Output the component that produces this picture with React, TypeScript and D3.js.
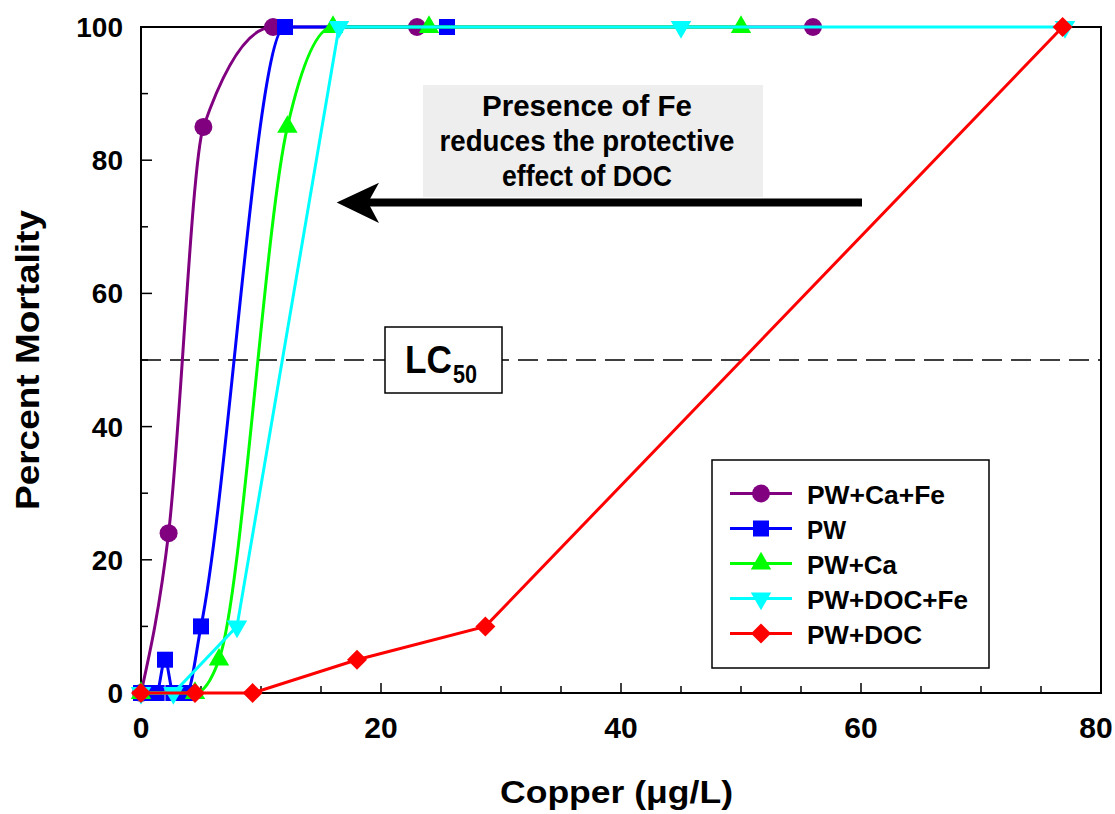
import React from 'react'
import * as d3 from 'd3'

// Copper (ug/L) vs percent mortality
const caFeX = [0, 2.3, 5.2, 11, 23, 56]
const caFeY = [0, 24, 85, 100, 100, 100]
const pwX = [0, 1.3, 2, 2.7, 3.8, 5, 12, 25.5]
const pwY = [0, 0, 5, 0, 0, 10, 100, 100]
const caX = [0, 4.5, 6.5, 12.2, 16, 24, 50]
const caY = [0, 0, 5, 85, 100, 100, 100]
const docFeX = [0, 2.7, 8, 16.5, 45, 77]
const docFeY = [0, 0, 10, 100, 100, 100]
const docX = [0, 4.5, 9.3, 18, 28.7, 76.8]
const docY = [0, 0, 0, 5, 10, 100]

const seriesNames = ['PW+Ca+Fe', 'PW', 'PW+Ca', 'PW+DOC+Fe', 'PW+DOC']
const xTicks = [0, 20, 40, 60, 80]
const yTicks = [0, 20, 40, 60, 80, 100]
const noteLines = ['Presence of Fe', 'reduces the protective', 'effect of DOC']

const FONT = '"Liberation Sans", Arial, sans-serif'

const zip = (xs: number[], ys: number[]) => xs.map((x, i) => [x, ys[i]] as [number, number])

const series = [
  { name: seriesNames[0], pts: zip(caFeX, caFeY), color: '#800080', shape: 'circle', smooth: true },
  { name: seriesNames[1], pts: zip(pwX, pwY), color: '#0000ff', shape: 'square', smooth: true },
  { name: seriesNames[2], pts: zip(caX, caY), color: '#00ff00', shape: 'up', smooth: true },
  { name: seriesNames[3], pts: zip(docFeX, docFeY), color: '#00ffff', shape: 'down', smooth: false },
  { name: seriesNames[4], pts: zip(docX, docY), color: '#ff0000', shape: 'diamond', smooth: false },
]

// measured text widths in the reference
const legendWidths = [138, 39, 90, 161, 115]
const noteWidths = [210, 295, 170]

function Marker({ shape, x, y, color }: { shape: string; x: number; y: number; color: string }) {
  let d = ''
  let rot = 0
  if (shape === 'circle') d = d3.symbol(d3.symbolCircle, 254)() as string
  else if (shape === 'square') d = d3.symbol(d3.symbolSquare, 256)() as string
  else if (shape === 'up') d = d3.symbol(d3.symbolTriangle, 180)() as string
  else if (shape === 'down') { d = d3.symbol(d3.symbolTriangle, 180)() as string; rot = 180 }
  else { d = d3.symbol(d3.symbolSquare, 200)() as string; rot = 45 }
  return <path d={d} transform={`translate(${x},${y}) rotate(${rot})`} fill={color} />
}

export default function App() {
  const width = 1115
  const height = 814
  const left = 141
  const right = 1101
  const top = 27
  const bottom = 693

  const x = d3.scaleLinear().domain([0, 80]).range([left, right])
  const y = d3.scaleLinear().domain([0, 100]).range([bottom, top])

  const smoothLine = d3.line<[number, number]>().x((d) => x(d[0])).y((d) => y(d[1])).curve(d3.curveMonotoneX)
  const straightLine = d3.line<[number, number]>().x((d) => x(d[0])).y((d) => y(d[1]))

  const xMinor = d3.range(0, 81, 5)
  const yMinor = d3.range(0, 101, 10)

  return (
    <svg width={width} height={height} style={{ position: 'absolute', left: 0, top: 0, background: '#fff' }} fontFamily={FONT}>
      {/* note box + arrow */}
      <rect x={423} y={85} width={340} height={112} fill="#eeeeee" />
      {noteLines.map((t, i) => (
        <text key={t} x={587 - noteWidths[i] / 2} y={116 + i * 35} fontSize={30} fontWeight="bold"
          textLength={noteWidths[i]} lengthAdjust="spacingAndGlyphs">{t}</text>
      ))}
      <line x1={862} y1={202.5} x2={366} y2={202.5} stroke="#000" strokeWidth={8} />
      <path d="M336.7,202.5 L379,182.7 L368,202.5 L379,223 Z" fill="#000" />

      {/* LC50 line */}
      <line x1={left} x2={right} y1={y(50)} y2={y(50)} stroke="#000" strokeWidth={1.5} strokeDasharray="20,9" />
      <rect x={385} y={327} width={117} height={66} fill="#fff" stroke="#000" strokeWidth={1.5} />
      <text x={405} y={373} fontSize={38} fontWeight="bold" textLength={47} lengthAdjust="spacingAndGlyphs">LC</text>
      <text x={453} y={383} fontSize={26} fontWeight="bold" textLength={24} lengthAdjust="spacingAndGlyphs">50</text>

      {/* frame and ticks */}
      <rect x={left} y={top} width={right - left} height={bottom - top} fill="none" stroke="#000" strokeWidth={2} />
      {xMinor.map((v) => (
        <line key={'xm' + v} x1={x(v)} x2={x(v)} y1={bottom} y2={bottom - (v % 20 === 0 ? 10 : 7)} stroke="#000" strokeWidth={1.5} />
      ))}
      {yMinor.map((v) => (
        <line key={'ym' + v} x1={left} x2={left + (v % 20 === 0 ? 11 : 7)} y1={y(v)} y2={y(v)} stroke="#000" strokeWidth={1.5} />
      ))}
      {xTicks.map((v) => (
        <text key={'xt' + v} x={Math.min(x(v), width - 19)} y={738} textAnchor="middle" fontSize={30} fontWeight="bold">{v}</text>
      ))}
      {yTicks.map((v) => (
        <text key={'yt' + v} x={123} y={y(v) + 10} textAnchor="end" fontSize={28} fontWeight="bold">{v}</text>
      ))}
      <text x={500} y={803} fontSize={31} fontWeight="bold" textLength={233} lengthAdjust="spacingAndGlyphs">Copper (μg/L)</text>
      <text transform={`translate(39,510) rotate(-90)`} fontSize={33} fontWeight="bold" textLength={300} lengthAdjust="spacingAndGlyphs">Percent Mortality</text>

      {/* series */}
      {series.map((s) => (
        <g key={s.name}>
          <path d={(s.smooth ? smoothLine : straightLine)(s.pts) as string} fill="none" stroke={s.color} strokeWidth={3} />
          {s.pts.map((p, i) => (
            <Marker key={i} shape={s.shape} x={x(p[0])} y={y(p[1])} color={s.color} />
          ))}
        </g>
      ))}

      {/* legend */}
      <rect x={712} y={460} width={277} height={208} fill="#fff" stroke="#000" strokeWidth={1.5} />
      {series.map((s, i) => {
        const ly = 493.5 + i * 35
        return (
          <g key={'lg' + s.name}>
            <line x1={730} x2={792} y1={ly} y2={ly} stroke={s.color} strokeWidth={3} />
            <Marker shape={s.shape} x={761} y={ly} color={s.color} />
            <text x={807} y={ly + 10} fontSize={25} fontWeight="bold"
              textLength={legendWidths[i]} lengthAdjust="spacingAndGlyphs">{s.name}</text>
          </g>
        )
      })}
    </svg>
  )
}
